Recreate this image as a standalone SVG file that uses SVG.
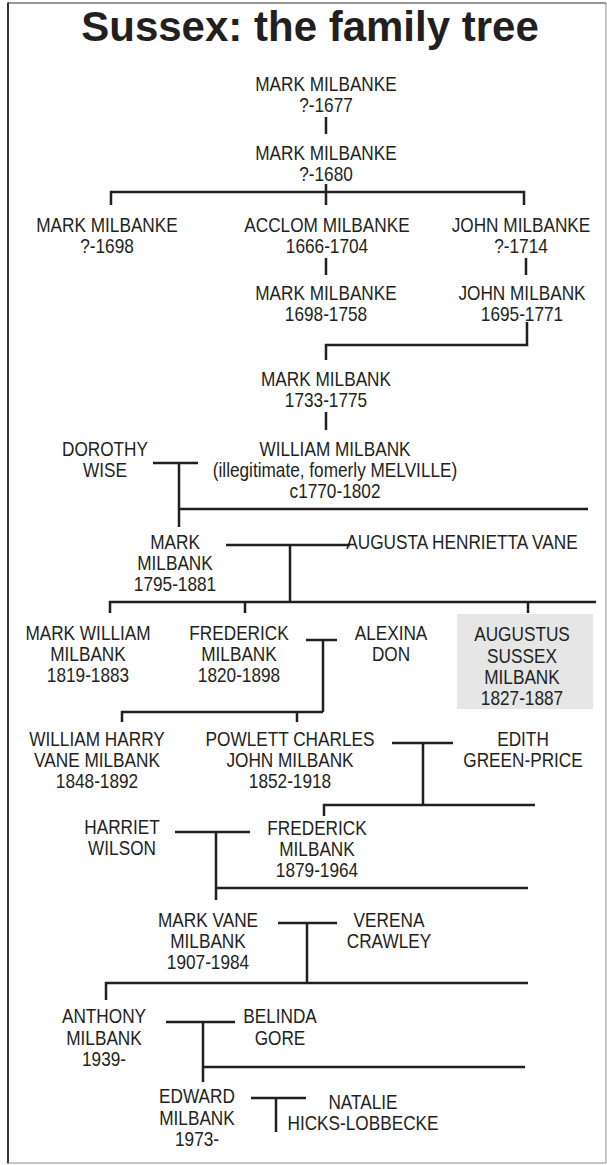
<svg xmlns="http://www.w3.org/2000/svg" width="607" height="1165" viewBox="0 0 607 1165">
<style>
.t{font-family:"Liberation Sans",Arial,Helvetica,sans-serif;font-size:21px;fill:#231f20;text-anchor:middle}
.title{font-family:"Liberation Sans",Arial,Helvetica,sans-serif;font-size:42px;font-weight:bold;fill:#231f20;text-anchor:middle}
.c{stroke:#231f20;stroke-width:2.5;fill:none;stroke-linecap:butt}
</style>
<rect x="0" y="0" width="607" height="1165" fill="#ffffff"/>
<g id="frame">
<line x1="8" y1="3" x2="606" y2="3" stroke="#333" stroke-width="1.2"/>
<line x1="8" y1="2.5" x2="8" y2="1163.5" stroke="#333" stroke-width="2"/>
<line x1="8" y1="1163" x2="606" y2="1163" stroke="#888" stroke-width="1.2"/>
<line x1="606" y1="3" x2="606" y2="1163" stroke="#888" stroke-width="1"/>
</g>
<text id="title" class="title" x="310" y="41">Sussex: the family tree</text>

<g id="connectors" class="c">
<path d="M326 117V134"/>
<path d="M326 184V192M111 205V192H524V205M326 192V205"/>
<path d="M326 258V275M526 258V275"/>
<path d="M527 322V345H326V360"/>
<path d="M326 412V430"/>
<path d="M153 463H198M179 463V527M179 509H588"/>
<path d="M226 545H350M290 545V602M110 613V602H596M245 602V613M528 602V613"/>
<path d="M306 640H337M323 640V712M122 722V712H323M297 712V722"/>
<path d="M392 743H453M423 743V805M324 816V805H535"/>
<path d="M175 832H250M216 832V900M216 888H528"/>
<path d="M278 923H337M307 923V983M106 1000V983H528"/>
<path d="M166 1022H235M203 1022V1082M203 1067H525"/>
<path d="M251 1098H306M276 1098V1132"/>
</g>

<g id="n1"><text class="t" transform="translate(326 0) scale(0.82 1)"><tspan x="0" y="91">MARK MILBANKE</tspan><tspan x="0" y="112">?-1677</tspan></text></g>
<g id="n2"><text class="t" transform="translate(326 0) scale(0.82 1)"><tspan x="0" y="160">MARK MILBANKE</tspan><tspan x="0" y="181">?-1680</tspan></text></g>
<g id="n3a"><text class="t" transform="translate(107 0) scale(0.82 1)"><tspan x="0" y="232">MARK MILBANKE</tspan><tspan x="0" y="253">?-1698</tspan></text></g>
<g id="n3b"><text class="t" transform="translate(327 0) scale(0.82 1)"><tspan x="0" y="232">ACCLOM MILBANKE</tspan><tspan x="0" y="253">1666-1704</tspan></text></g>
<g id="n3c"><text class="t" transform="translate(521 0) scale(0.82 1)"><tspan x="0" y="232">JOHN MILBANKE</tspan><tspan x="0" y="253">?-1714</tspan></text></g>
<g id="n4a"><text class="t" transform="translate(326 0) scale(0.82 1)"><tspan x="0" y="300">MARK MILBANKE</tspan><tspan x="0" y="321">1698-1758</tspan></text></g>
<g id="n4b"><text class="t" transform="translate(522 0) scale(0.82 1)"><tspan x="0" y="300">JOHN MILBANK</tspan><tspan x="0" y="321">1695-1771</tspan></text></g>
<g id="n5"><text class="t" transform="translate(326 0) scale(0.82 1)"><tspan x="0" y="386">MARK MILBANK</tspan><tspan x="0" y="407">1733-1775</tspan></text></g>
<g id="n6a"><text class="t" transform="translate(105 0) scale(0.82 1)"><tspan x="0" y="456">DOROTHY</tspan><tspan x="0" y="477">WISE</tspan></text></g>
<g id="n6b"><text class="t" transform="translate(335 0) scale(0.82 1)"><tspan x="0" y="456">WILLIAM MILBANK</tspan><tspan x="0" y="477">(illegitimate, fomerly MELVILLE)</tspan><tspan x="0" y="498">c1770-1802</tspan></text></g>
<g id="n7a"><text class="t" transform="translate(175 0) scale(0.82 1)"><tspan x="0" y="549">MARK</tspan><tspan x="0" y="570">MILBANK</tspan><tspan x="0" y="591">1795-1881</tspan></text></g>
<g id="n7b"><text class="t" transform="translate(462 0) scale(0.82 1)"><tspan x="0" y="549">AUGUSTA HENRIETTA VANE</tspan></text></g>
<g id="n8a"><text class="t" transform="translate(88 0) scale(0.82 1)"><tspan x="0" y="640">MARK WILLIAM</tspan><tspan x="0" y="661">MILBANK</tspan><tspan x="0" y="682">1819-1883</tspan></text></g>
<g id="n8b"><text class="t" transform="translate(239 0) scale(0.82 1)"><tspan x="0" y="640">FREDERICK</tspan><tspan x="0" y="661">MILBANK</tspan><tspan x="0" y="682">1820-1898</tspan></text></g>
<g id="n8c"><text class="t" transform="translate(391 0) scale(0.82 1)"><tspan x="0" y="640">ALEXINA</tspan><tspan x="0" y="661">DON</tspan></text></g>
<g id="n8d"><rect x="457" y="614" width="136" height="95" fill="#e6e6e6"/><text class="t" transform="translate(522 0) scale(0.82 1)"><tspan x="0" y="641">AUGUSTUS</tspan><tspan x="0" y="663">SUSSEX</tspan><tspan x="0" y="684">MILBANK</tspan><tspan x="0" y="705">1827-1887</tspan></text></g>
<g id="n9a"><text class="t" transform="translate(97 0) scale(0.82 1)"><tspan x="0" y="746">WILLIAM HARRY</tspan><tspan x="0" y="767">VANE MILBANK</tspan><tspan x="0" y="788">1848-1892</tspan></text></g>
<g id="n9b"><text class="t" transform="translate(290 0) scale(0.82 1)"><tspan x="0" y="746">POWLETT CHARLES</tspan><tspan x="0" y="767">JOHN MILBANK</tspan><tspan x="0" y="788">1852-1918</tspan></text></g>
<g id="n9c"><text class="t" transform="translate(523 0) scale(0.82 1)"><tspan x="0" y="746">EDITH</tspan><tspan x="0" y="767">GREEN-PRICE</tspan></text></g>
<g id="n10a"><text class="t" transform="translate(122 0) scale(0.82 1)"><tspan x="0" y="834">HARRIET</tspan><tspan x="0" y="855">WILSON</tspan></text></g>
<g id="n10b"><text class="t" transform="translate(317 0) scale(0.82 1)"><tspan x="0" y="835">FREDERICK</tspan><tspan x="0" y="856">MILBANK</tspan><tspan x="0" y="877">1879-1964</tspan></text></g>
<g id="n11a"><text class="t" transform="translate(208 0) scale(0.82 1)"><tspan x="0" y="927">MARK VANE</tspan><tspan x="0" y="948">MILBANK</tspan><tspan x="0" y="969">1907-1984</tspan></text></g>
<g id="n11b"><text class="t" transform="translate(389 0) scale(0.82 1)"><tspan x="0" y="927">VERENA</tspan><tspan x="0" y="948">CRAWLEY</tspan></text></g>
<g id="n12a"><text class="t" transform="translate(104 0) scale(0.82 1)"><tspan x="0" y="1023">ANTHONY</tspan><tspan x="0" y="1045">MILBANK</tspan><tspan x="0" y="1066">1939-</tspan></text></g>
<g id="n12b"><text class="t" transform="translate(280 0) scale(0.82 1)"><tspan x="0" y="1023">BELINDA</tspan><tspan x="0" y="1045">GORE</tspan></text></g>
<g id="n13a"><text class="t" transform="translate(197 0) scale(0.82 1)"><tspan x="0" y="1103">EDWARD</tspan><tspan x="0" y="1125">MILBANK</tspan><tspan x="0" y="1146">1973-</tspan></text></g>
<g id="n13b"><text class="t" transform="translate(363 0) scale(0.82 1)"><tspan x="0" y="1109">NATALIE</tspan><tspan x="0" y="1130">HICKS-LOBBECKE</tspan></text></g>
</svg>
